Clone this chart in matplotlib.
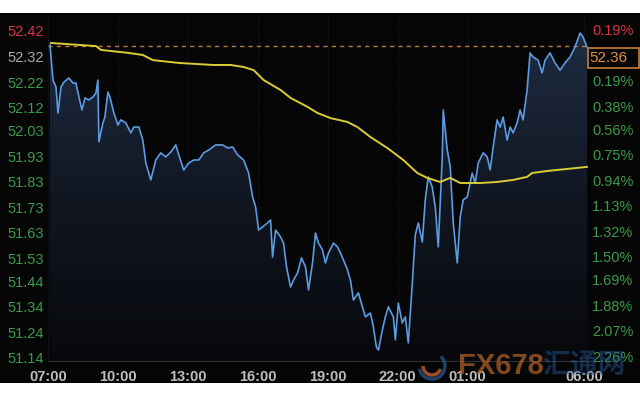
import matplotlib
matplotlib.use("Agg")
import matplotlib.pyplot as plt
import numpy as np
from matplotlib.colors import LinearSegmentedColormap
from matplotlib.patches import Polygon, Rectangle, Arc
import matplotlib.transforms as mtransforms

plt.rcParams['font.family'] = ['Liberation Sans', 'Noto Sans CJK SC', 'DejaVu Sans']

# ---- data (hours after 07:00, price) ----
price_hours = [0.086, 0.214, 0.343, 0.428, 0.557, 0.685, 0.899, 1.071, 1.199, 1.328, 1.456, 1.585, 1.756,
               1.927, 2.056, 2.141, 2.184, 2.355, 2.441, 2.570, 2.655, 2.827, 2.998, 3.126, 3.340, 3.555,
               3.683, 3.897, 4.069, 4.197, 4.411, 4.625, 4.839, 5.054, 5.268, 5.482, 5.610, 5.824, 6.039,
               6.253, 6.467, 6.681, 6.895, 7.195, 7.495, 7.709, 7.923, 8.137, 8.394, 8.608, 8.779, 8.908,
               9.036, 9.208, 9.422, 9.550, 9.636, 9.764, 9.979, 10.107, 10.236, 10.407, 10.535, 10.707,
               10.878, 11.049, 11.178, 11.349, 11.478, 11.606, 11.777, 11.906, 12.034, 12.248, 12.420,
               12.548, 12.677, 12.848, 12.976, 13.105, 13.319, 13.490, 13.619, 13.833, 13.961, 14.090,
               14.176, 14.347, 14.475, 14.604, 14.818, 14.904, 15.032, 15.203, 15.332, 15.460, 15.632,
               15.760, 15.889, 16.060, 16.188, 16.317, 16.488, 16.617, 16.745, 16.917, 16.959, 17.131,
               17.259, 17.388, 17.559, 17.687, 17.816, 17.987, 18.201, 18.330, 18.458, 18.672, 18.844,
               18.972, 19.101, 19.272, 19.400, 19.529, 19.700, 19.829, 19.957, 20.128, 20.257, 20.385,
               20.557, 20.685, 20.814, 21.028, 21.199, 21.328, 21.542, 21.756, 21.970, 22.184, 22.398,
               22.612, 22.827, 22.955, 23.126]
price_values = [52.365, 52.228, 52.201, 52.099, 52.201, 52.220, 52.236, 52.216, 52.216, 52.162, 52.111, 52.158, 52.150,
                52.162, 52.177, 52.228, 51.986, 52.060, 52.083, 52.181, 52.162, 52.099, 52.052, 52.072, 52.060, 52.021,
                52.044, 52.044, 51.993, 51.903, 51.837, 51.915, 51.943, 51.927, 51.946, 51.974, 51.935, 51.876, 51.903,
                51.915, 51.915, 51.943, 51.954, 51.974, 51.974, 51.962, 51.966, 51.935, 51.915, 51.864, 51.770, 51.731,
                51.641, 51.653, 51.669, 51.680, 51.535, 51.641, 51.614, 51.590, 51.496, 51.418, 51.445, 51.473,
                51.532, 51.496, 51.406, 51.512, 51.629, 51.590, 51.563, 51.512, 51.551, 51.590, 51.575,
                51.551, 51.524, 51.485, 51.445, 51.367, 51.395, 51.340, 51.301, 51.316, 51.262, 51.183,
                51.171, 51.250, 51.301, 51.340, 51.301, 51.211, 51.355, 51.277, 51.301, 51.199, 51.434,
                51.622, 51.669, 51.594, 51.759, 51.849, 51.809, 51.731, 51.575, 51.927, 52.111, 51.954,
                51.888, 51.669, 51.512, 51.692, 51.759, 51.770, 51.864, 51.825, 51.903, 51.943, 51.927,
                51.876, 51.966, 52.072, 52.044, 52.083, 51.993, 52.044, 52.021, 52.060, 52.111, 52.072,
                52.189, 52.334, 52.318, 52.306, 52.256, 52.306, 52.334, 52.295, 52.267, 52.295, 52.318,
                52.357, 52.412, 52.397, 52.357]

avg_hours = [0.128, 2.056, 2.270, 3.469, 4.069, 4.497, 5.610, 7.066, 7.837, 8.394, 8.822, 9.251, 9.979,
             10.407, 11.135, 11.563, 12.120, 12.848, 13.276, 13.833, 14.561, 15.246, 15.846, 16.274, 16.831,
             17.259, 17.687, 18.544, 19.272, 19.957, 20.557, 20.771, 21.413, 22.270, 23.126]
avg_values = [52.373, 52.361, 52.346, 52.334, 52.326, 52.306, 52.295, 52.287, 52.287, 52.279, 52.267, 52.228, 52.189,
              52.158, 52.123, 52.099, 52.079, 52.064, 52.044, 52.005, 51.962, 51.915, 51.864, 51.845, 51.829,
              51.845, 51.825, 51.825, 51.829, 51.837, 51.849, 51.864, 51.872, 51.880, 51.888]

ref_price = 52.36
ref_label = "52.36"

left_ticks = [52.42, 52.32, 52.22, 52.12, 52.03, 51.93, 51.83, 51.73, 51.63, 51.53, 51.44, 51.34, 51.24, 51.14]
right_labels = ["0.19%", "", "0.19%", "0.38%", "0.56%", "0.75%", "0.94%", "1.13%", "1.32%", "1.50%",
                "1.69%", "1.88%", "2.07%", "2.26%"]
x_ticks = [0, 3, 6, 9, 12, 15, 18, 23]
x_labels = ["07:00", "10:00", "13:00", "16:00", "19:00", "22:00", "01:00", "06:00"]

# ---- figure ----
fig = plt.figure(figsize=(6.4, 4.0), dpi=100, facecolor='white')
bg = Rectangle((0, 17/400), 1, 370/400, transform=fig.transFigure,
               facecolor='#050505', edgecolor='none', zorder=-10)
fig.patches.append(bg)

ax = fig.add_axes([48/640, 1-362/400, 540/640, 348/400])
ax.set_zorder(1)
ax.set_facecolor('#050505')
ymin, ymax = 51.1243, 52.4865

for s in ax.spines.values():
    s.set_visible(False)
ax.axhline(ymin, color='#3a3a3a', lw=1.2, zorder=5)
ax.axvline(23.17, color='#2c2c2c', lw=1.0, ls=(0, (1, 1)), zorder=5)

# very faint grid
for xt in x_ticks:
    ax.axvline(xt, color='#0f1013', lw=0.8, zorder=1)
for yt in left_ticks:
    ax.axhline(yt, color='#0b0c0f', lw=0.6, zorder=1)

# gradient fill
cmap = LinearSegmentedColormap.from_list('fillg', ['#07080b', '#111722', '#1f2c42'])
grad = np.linspace(0, 1, 256).reshape(-1, 1)
im = ax.imshow(grad, extent=[price_hours[0], price_hours[-1], ymin, 52.42], origin='lower',
               aspect='auto', cmap=cmap, zorder=2, interpolation='bicubic')
verts = [(price_hours[0], ymin)] + list(zip(price_hours, price_values)) + [(price_hours[-1], ymin)]
poly = Polygon(verts, closed=True, facecolor='none', edgecolor='none')
ax.add_patch(poly)
im.set_clip_path(poly)
ax.set_xlim(0.04, 23.17)
ax.set_ylim(ymin, ymax)

ax.plot(price_hours, price_values, color='#5b9be2', lw=1.2, zorder=4)
ax.plot(avg_hours, avg_values, color='#d9cc35', lw=1.4, zorder=4)
ax.axhline(ref_price, color='#c07a38', lw=1.0, ls=(0, (3, 3)), zorder=3)

# left ticks
ax.set_yticks(left_ticks)
ax.set_yticklabels([f"{v:.2f}" for v in left_ticks], fontsize=10.5)
ax.tick_params(axis='y', length=0, pad=3)
for i, t in enumerate(ax.get_yticklabels()):
    if i == 0:
        t.set_color('#d8343e')
    elif i == 1:
        t.set_color('#a9a9a9')
    else:
        t.set_color('#3a9a48')

ax.set_xticks(x_ticks)
ax.set_xticklabels(x_labels, fontsize=10.5, fontweight='bold', color='#bdbdbd')
ax.tick_params(axis='x', length=0, pad=6)

# right labels
trans = mtransforms.blended_transform_factory(ax.transAxes, ax.transData)
for i, (v, lab) in enumerate(zip(left_ticks, right_labels)):
    if not lab:
        continue
    ax.text(1 + 4/540, v, lab, transform=trans, ha='left', va='center', fontsize=10.5,
            color='#d8343e' if i == 0 else '#3a9a48', clip_on=False)

# ref price box
fig.patches.append(Rectangle((588/640, 1-68/400), 51/640, 20/400, transform=fig.transFigure,
                             facecolor='#050505', edgecolor='#c8803a', lw=1.2, zorder=6))
fig.text(589/640, 1-58/400, ref_label, ha='left', va='center', fontsize=11, color='#e0903e', zorder=7)

# watermark
fig.patches.append(Arc((432/640, 1-366/400), 26/640, 26/400, theta1=200, theta2=420,
                       transform=fig.transFigure, color='#2a5a9a', lw=2.5, alpha=0.7, zorder=6))
fig.patches.append(Arc((432/640, 1-366/400), 18/640, 18/400, theta1=180, theta2=330,
                       transform=fig.transFigure, color='#c0602a', lw=2.5, alpha=0.8, zorder=6))
fig.text(458/640, 1-366/400, "FX678", ha='left', va='center', fontsize=21, fontweight='bold',
         color='#b8642a', alpha=0.7, zorder=6)
fig.text(542/640, 1-366/400, "汇通网", ha='left', va='center', fontsize=20, fontweight='bold',
         family=['Noto Sans CJK SC', 'DejaVu Sans'], color='#2a5a9a', alpha=0.45, zorder=6)

fig.savefig('out.png', dpi=100, facecolor='white')
